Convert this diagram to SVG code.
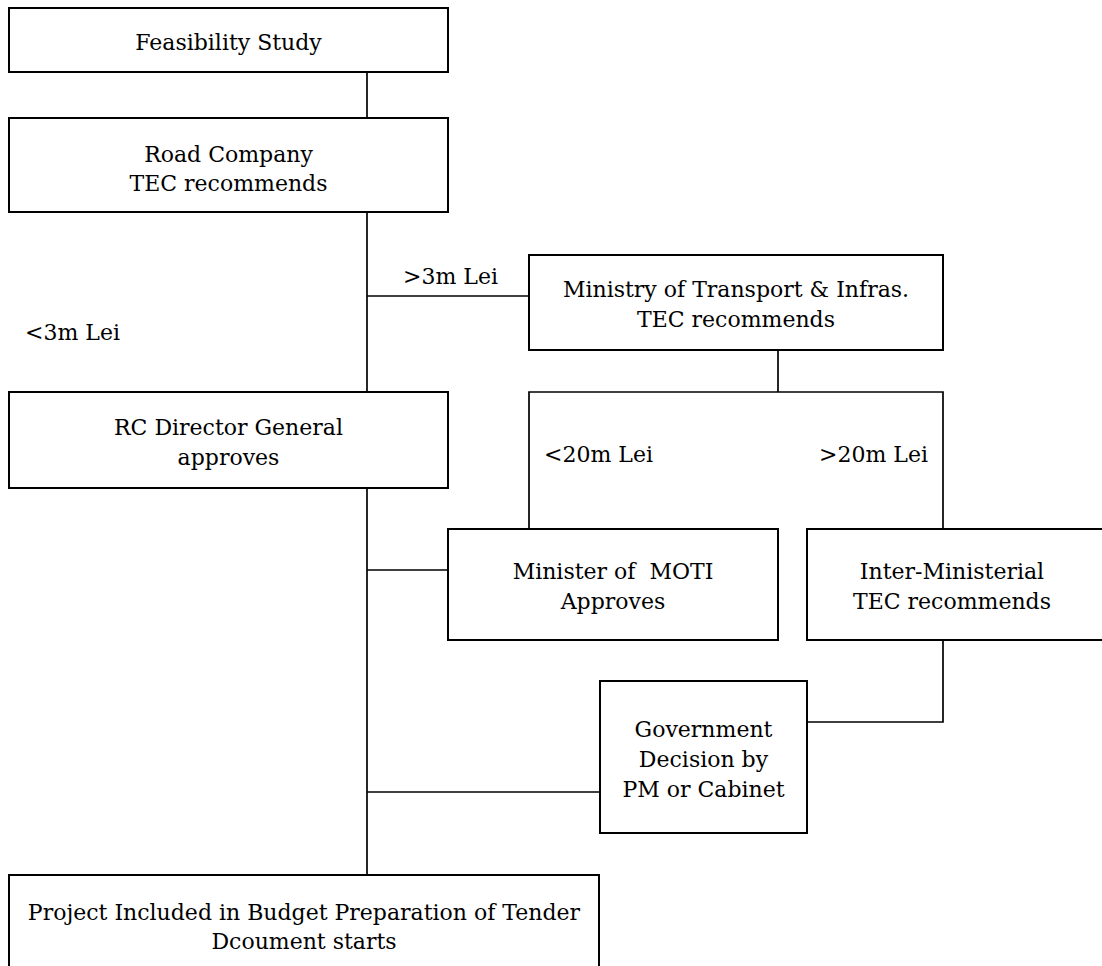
<svg xmlns="http://www.w3.org/2000/svg" width="1102" height="966" viewBox="0 0 1102 966">
<style>
.box{fill:#fff;stroke:#000;stroke-width:2}
.ln{fill:none;stroke:#000;stroke-width:1.7}
text{font-family:"DejaVu Serif","Liberation Serif",serif;font-size:22px;fill:#000}
.c{text-anchor:middle}
</style>
<rect width="1102" height="966" fill="#fff"/>
<g id="connectors">
<line class="ln" x1="367" y1="72" x2="367" y2="118"/>
<line class="ln" x1="367" y1="212" x2="367" y2="392"/>
<line class="ln" x1="367" y1="296" x2="529" y2="296"/>
<line class="ln" x1="778" y1="350" x2="778" y2="392"/>
<polyline class="ln" points="529,529 529,392 943,392 943,529"/>
<line class="ln" x1="367" y1="488" x2="367" y2="875"/>
<line class="ln" x1="367" y1="570" x2="448" y2="570"/>
<polyline class="ln" points="943,640 943,722 807,722"/>
<line class="ln" x1="367" y1="792" x2="600" y2="792"/>
<text x="403" y="284">&gt;3m Lei</text>
<text x="25" y="340">&lt;3m Lei</text>
<text x="544" y="462">&lt;20m Lei</text>
<text x="928" y="462" text-anchor="end">&gt;20m Lei</text>
</g>
<g id="feasibility">
<rect class="box" x="9" y="8" width="439" height="64"/>
<text class="c" x="228.5" y="50">Feasibility Study</text>
</g>
<g id="road-company">
<rect class="box" x="9" y="118" width="439" height="94"/>
<text class="c" x="228.5" y="162">Road Company</text>
<text class="c" x="228.5" y="191">TEC recommends</text>
</g>
<g id="ministry">
<rect class="box" x="529" y="255" width="414" height="95"/>
<text class="c" x="736" y="297">Ministry of Transport &amp; Infras.</text>
<text class="c" x="736" y="327">TEC recommends</text>
</g>
<g id="rc-director">
<rect class="box" x="9" y="392" width="439" height="96"/>
<text class="c" x="228.5" y="434.5">RC Director General</text>
<text class="c" x="228.5" y="464.5">approves</text>
</g>
<g id="minister-moti">
<rect class="box" x="448" y="529" width="330" height="111"/>
<text class="c" x="613" y="579" xml:space="preserve">Minister of  MOTI</text>
<text class="c" x="613" y="609">Approves</text>
</g>
<g id="inter-ministerial">
<rect class="box" x="807" y="529" width="300" height="111"/>
<text class="c" x="952" y="579">Inter-Ministerial</text>
<text class="c" x="952" y="609">TEC recommends</text>
</g>
<g id="government">
<rect class="box" x="600" y="681" width="207" height="152"/>
<text class="c" x="703.5" y="736.5">Government</text>
<text class="c" x="703.5" y="766.5">Decision by</text>
<text class="c" x="703.5" y="796.5">PM or Cabinet</text>
</g>
<g id="project-budget">
<rect class="box" x="9" y="875" width="590" height="110"/>
<text class="c" x="304" y="920">Project Included in Budget Preparation of Tender</text>
<text class="c" x="304" y="949">Dcoument starts</text>
</g>
</svg>
